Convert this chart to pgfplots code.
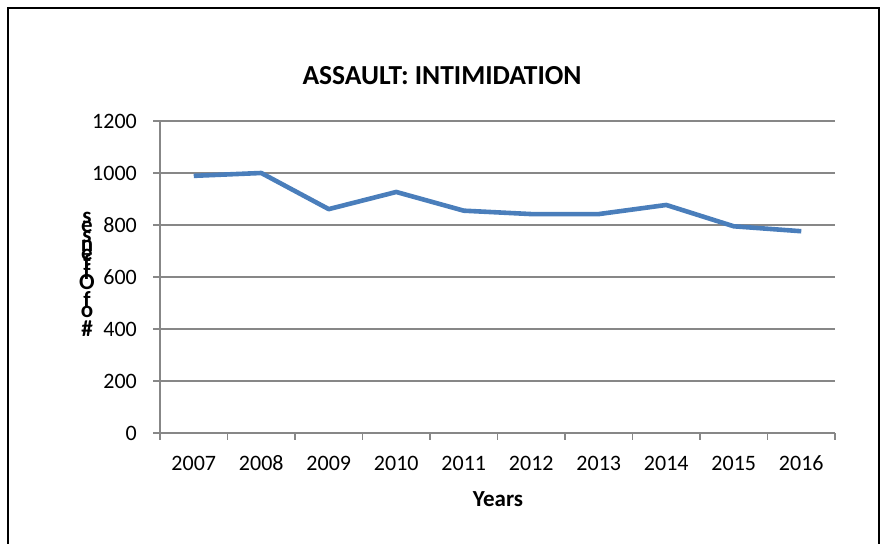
\documentclass[border=0pt]{standalone}
\usepackage{pgfplots}
\pgfplotsset{compat=1.18}
\usepackage{fontspec}
\setmainfont{Carlito}
\definecolor{serblue}{HTML}{4A7EBB}
\definecolor{gridgray}{HTML}{878787}
\begin{document}
\begin{tikzpicture}[x=1bp,y=1bp]
\path[use as bounding box] (0,0) rectangle (881,544);
% outer chart frame (open at the bottom, cut by the image edge)
\draw[line width=2bp,black] (8,-5) -- (8,536) -- (879,536) -- (879,-5);
\begin{axis}[
  at={(160bp,111bp)}, anchor=south west,
  scale only axis, width=675bp, height=312bp,
  xmin=-0.5, xmax=9.5, ymin=0, ymax=1200,
  axis x line*=bottom, axis y line*=left,
  axis line style={gridgray, line width=1.3bp},
  xtick={0,...,9},
  xticklabels={2007,2008,2009,2010,2011,2012,2013,2014,2015,2016},
  minor xtick={-0.5,0.5,...,9.5},
  major x tick style={draw=none},
  minor x tick style={gridgray, line width=1.3bp},
  minor tick length=7bp,
  ytick={0,200,...,1200},
  major y tick style={gridgray, line width=1.3bp},
  major tick length=7bp,
  tick align=outside,
  ymajorgrids,
  major grid style={gridgray, line width=1.3bp},
  tick label style={font=\fontsize{22bp}{26bp}\selectfont, inner sep=0pt},
  xticklabel style={anchor=base, yshift=-31bp},
  yticklabel style={anchor=east, xshift=-16bp},
  /pgf/number format/assume math mode=true,
  /pgf/number format/1000 sep={},
  clip=false,
]
\addplot[serblue, line width=4.6bp, line join=round] coordinates {
(0,989) (1,1000) (2,861) (3,927) (4,855) (5,842) (6,842) (7,877) (8,795) (9,776)
};
\end{axis}
\node[font=\bfseries\fontsize{27.5bp}{32bp}\selectfont, inner sep=0pt] at (442,468) {ASSAULT: INTIMIDATION};
\node[font=\bfseries\fontsize{23bp}{27bp}\selectfont, inner sep=0pt] at (498,45) {Years};
\node[inner sep=0pt, font=\bfseries\fontsize{23bp}{27bp}\selectfont] at (87,270) {%
  \parbox{24bp}{\centering\baselineskip=9.4bp\lineskiplimit=-100bp\lineskip=0bp
  s\\e\\s\\n\\e\\f\\f\\O\\\mbox{}\\f\\o\\\mbox{}\\\#}};
\end{tikzpicture}
\end{document}
